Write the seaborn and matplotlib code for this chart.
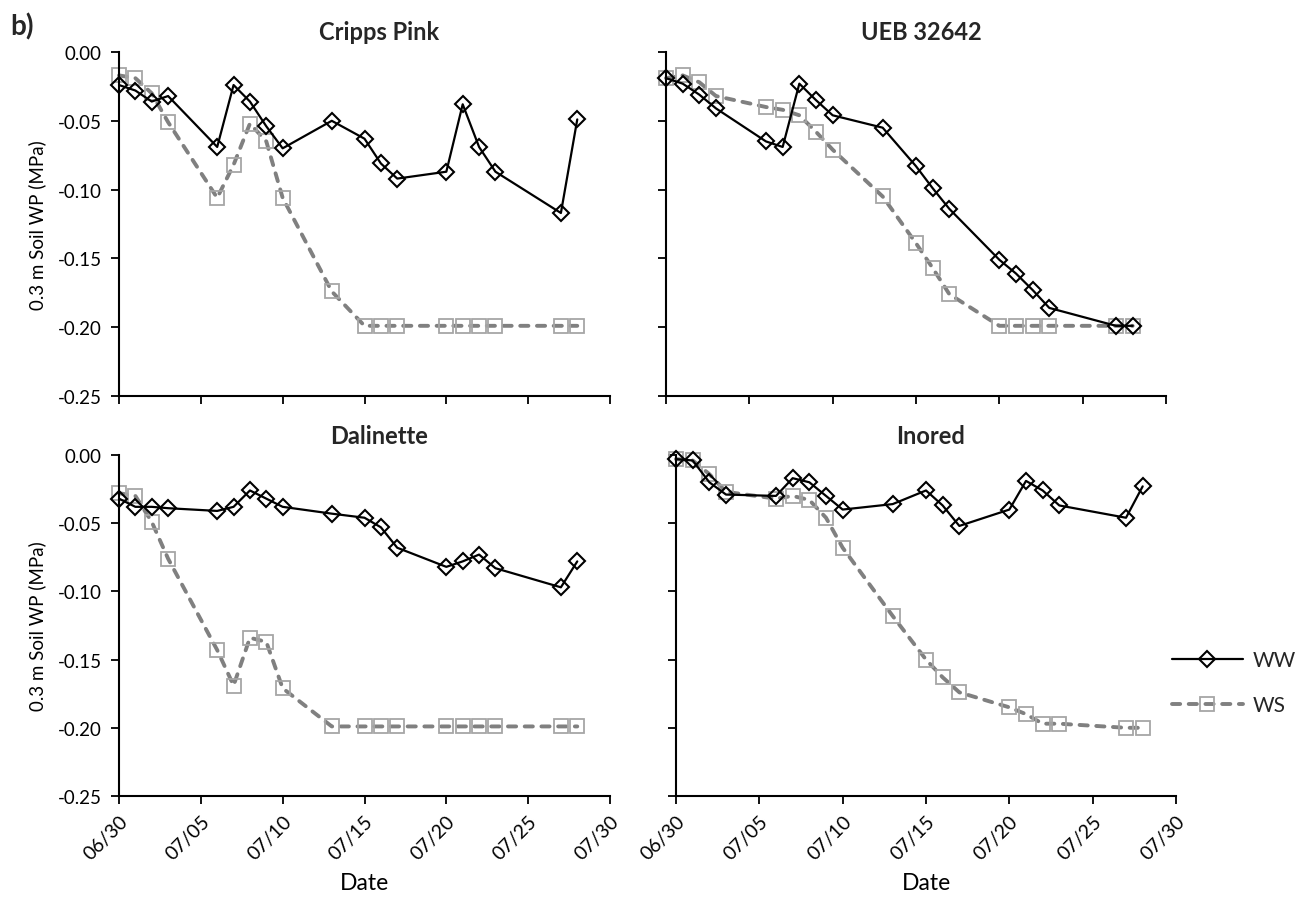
import numpy as np
import pandas as pd
import matplotlib
matplotlib.use("Agg")
import matplotlib.pyplot as plt
import matplotlib.dates as mdates
from matplotlib.lines import Line2D
import seaborn as sns

# ---------------- data ----------------
dates = ["06/30", "07/01", "07/02", "07/03", "07/06", "07/07", "07/08", "07/09",
         "07/10", "07/13", "07/15", "07/16", "07/17", "07/20", "07/21", "07/22",
         "07/23", "07/27", "07/28"]
cultivars = ["Cripps Pink", "UEB 32642", "Dalinette", "Inored"]
treatments = ["WW", "WS"]

cripps_ww = [-0.024, -0.028, -0.036, -0.032, -0.069, -0.024, -0.036, -0.054, -0.070,
             -0.050, -0.063, -0.081, -0.092, -0.087, -0.038, -0.069, -0.087, -0.117, -0.049]
cripps_ws = [-0.017, -0.019, -0.030, -0.051, -0.106, -0.082, -0.052, -0.065, -0.106,
             -0.174, -0.199, -0.199, -0.199, -0.199, -0.199, -0.199, -0.199, -0.199, -0.199]
ueb_ww = [-0.019, -0.023, -0.031, -0.041, -0.065, -0.069, -0.023, -0.035, -0.046,
          -0.055, -0.083, -0.099, -0.114, -0.151, -0.161, -0.173, -0.186, -0.199, -0.199]
ueb_ws = [-0.019, -0.017, -0.022, -0.032, -0.040, -0.042, -0.046, -0.058, -0.071,
          -0.105, -0.139, -0.157, -0.176, -0.199, -0.199, -0.199, -0.199, -0.199, -0.199]
dal_ww = [-0.032, -0.038, -0.038, -0.039, -0.041, -0.038, -0.026, -0.032, -0.038,
          -0.043, -0.046, -0.053, -0.068, -0.082, -0.078, -0.073, -0.083, -0.097, -0.078]
dal_ws = [-0.028, -0.030, -0.049, -0.076, -0.143, -0.169, -0.134, -0.137, -0.171,
          -0.199, -0.199, -0.199, -0.199, -0.199, -0.199, -0.199, -0.199, -0.199, -0.199]
ino_ww = [-0.003, -0.004, -0.020, -0.029, -0.030, -0.017, -0.020, -0.030, -0.040,
          -0.036, -0.026, -0.037, -0.052, -0.040, -0.019, -0.026, -0.037, -0.046, -0.023]
ino_ws = [-0.003, -0.004, -0.014, -0.027, -0.032, -0.030, -0.033, -0.046, -0.068,
          -0.118, -0.150, -0.163, -0.174, -0.185, -0.190, -0.197, -0.197, -0.200, -0.200]

yticks = [-0.25, -0.20, -0.15, -0.10, -0.05, 0.00]
ytick_labels = ["-0.25", "-0.20", "-0.15", "-0.10", "-0.05", "0.00"]
xtick_dates = ["06/30", "07/05", "07/10", "07/15", "07/20", "07/25", "07/30"]
year = "2016/"

series = {
    ("Cripps Pink", "WW"): cripps_ww, ("Cripps Pink", "WS"): cripps_ws,
    ("UEB 32642", "WW"): ueb_ww, ("UEB 32642", "WS"): ueb_ws,
    ("Dalinette", "WW"): dal_ww, ("Dalinette", "WS"): dal_ws,
    ("Inored", "WW"): ino_ww, ("Inored", "WS"): ino_ws,
}
rows = []
for (cv, tr), vals in series.items():
    for d, v in zip(dates, vals):
        rows.append({"cultivar": cv, "treatment": tr,
                     "date": pd.to_datetime(year + d), "wp": v})
df = pd.DataFrame(rows)

# ---------------- style ----------------
sns.set_theme(style="white")
plt.rcParams["font.family"] = ["Lato", "DejaVu Sans"]

W, H = 1314, 903
fig = plt.figure(figsize=(W / 100, H / 100), dpi=100)


def px_axes(x0, x1, ytop, ybot):
    return fig.add_axes([x0 / W, 1 - ybot / H, (x1 - x0) / W, (ybot - ytop) / H])


axes = {
    "Cripps Pink": px_axes(119, 610, 53, 397),
    "UEB 32642": px_axes(666, 1166, 53, 397),
    "Dalinette": px_axes(119, 610, 456, 797),
    "Inored": px_axes(676, 1176, 456, 797),
}
title_x = {"Cripps Pink": 0.53, "UEB 32642": 0.51, "Dalinette": 0.53, "Inored": 0.51}

ww_kw = dict(color="black", linewidth=1.6, marker="D", markersize=8,
             markerfacecolor="none", markeredgecolor="black", markeredgewidth=1.5)
ws_kw = dict(color="#808080", linewidth=2.8, linestyle=(0, (2.1, 2.2)),
             dash_capstyle="round", marker="s",
             markersize=10, markerfacecolor="none", markeredgecolor="#a6a6a6",
             markeredgewidth=1.3)

xmin = pd.to_datetime(year + "06/30")
xmax = pd.to_datetime(year + "07/30")
xticks = [pd.to_datetime(year + d) for d in xtick_dates]

for cv, ax in axes.items():
    sub = df[df["cultivar"] == cv]
    sns.lineplot(data=sub[sub["treatment"] == "WS"], x="date", y="wp", ax=ax,
                 errorbar=None, **ws_kw)
    sns.lineplot(data=sub[sub["treatment"] == "WW"], x="date", y="wp", ax=ax,
                 errorbar=None, **ww_kw)
    ax.set_xlim(xmin, xmax)
    ax.set_ylim(-0.25, 0.0)
    ax.set_xticks(xticks)
    ax.xaxis.set_major_formatter(mdates.DateFormatter("%m/%d"))
    ax.set_yticks(yticks)
    ax.set_yticklabels(ytick_labels)
    for s in ["top", "right"]:
        ax.spines[s].set_visible(False)
    for s in ["left", "bottom"]:
        ax.spines[s].set_color("black")
        ax.spines[s].set_linewidth(1.5)
    ax.tick_params(axis="both", direction="out", length=5.5, width=1.3,
                   color="black", labelsize=13.5, labelcolor="black",
                   bottom=True, left=True)
    ax.tick_params(axis="y", pad=7)
    ax.tick_params(axis="x", pad=6, labelsize=14)
    ax.set_title(cv, fontsize=17, fontweight="bold", x=title_x[cv], pad=9)
    ax.set_xlabel("")
    ax.set_ylabel("")
    ax.set_facecolor("white")
    ax.grid(False)
    for ln in ax.lines:
        ln.set_clip_on(False)

for cv in ["Cripps Pink", "UEB 32642"]:
    axes[cv].tick_params(axis="x", labelbottom=False)
for cv in ["UEB 32642", "Inored"]:
    axes[cv].tick_params(axis="y", labelleft=False)
for cv in ["Dalinette", "Inored"]:
    ax = axes[cv]
    for lab in ax.get_xticklabels():
        lab.set_rotation(45)
        lab.set_ha("right")
        lab.set_rotation_mode("anchor")
    ax.set_xlabel("Date", fontsize=16.5, color="black", labelpad=7)
for cv in ["Cripps Pink", "Dalinette"]:
    axes[cv].set_ylabel("0.3 m Soil WP (MPa)", fontsize=13.5, color="black", labelpad=8)

fig.text(10 / W, 1 - 27 / H, "b)", fontsize=20, fontweight="bold", va="center", ha="left")

handles = [Line2D([], [], **ww_kw), Line2D([], [], **ws_kw)]
fig.legend(handles, treatments, loc="center left",
           bbox_to_anchor=(1172 / W, 1 - 684 / H), frameon=False, fontsize=15,
           handlelength=3.4, handletextpad=0.45, labelspacing=1.2, numpoints=1,
           borderaxespad=0, borderpad=0)

fig.savefig("out.png", dpi=100, facecolor="white")
